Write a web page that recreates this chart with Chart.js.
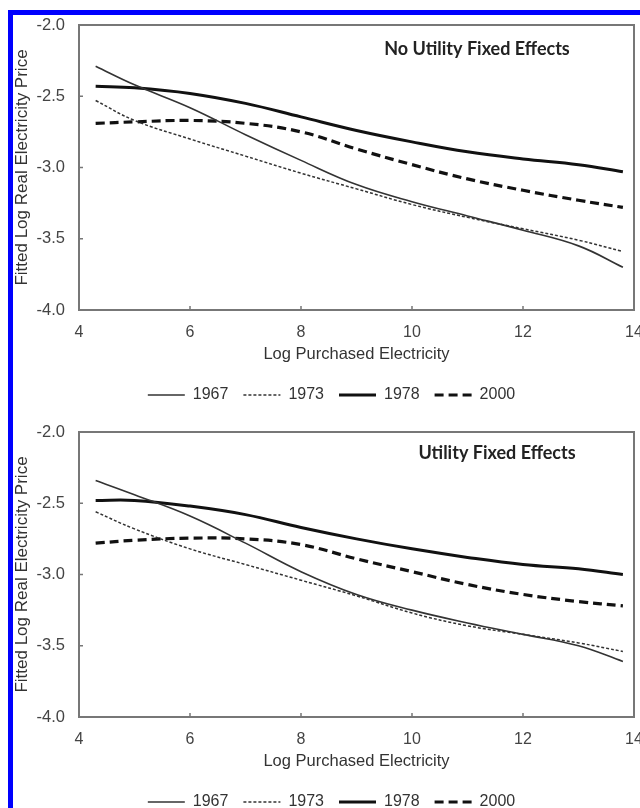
<!DOCTYPE html>
<html>
<head>
<meta charset="utf-8">
<script src="https://cdn.jsdelivr.net/npm/chart.js@4/dist/chart.umd.min.js"></script>
<style>
  body { margin: 0; width: 640px; height: 808px; overflow: hidden; background: #fff; position: relative; }
  #frame { position: absolute; left: 8px; top: 10px; width: 700px; height: 900px; border: 5px solid #0000fe; }
  .panel { position: absolute; left: 13px; width: 640px; height: 407px; }
</style>
</head>
<body>
<div id="frame"></div>
<div class="panel" style="top:9px"><canvas id="grafica1" width="640" height="407"></canvas></div>
<div class="panel" style="top:416px"><canvas id="grafica2" width="640" height="407"></canvas></div>

<script>
// x positions (log purchased electricity) where the fitted curves are read
var xVals = [4.3, 5, 6, 7, 8, 9, 10, 11, 12, 13, 13.8];
var years = ['1967', '1973', '1978', '2000'];
var xTicks = [4, 6, 8, 10, 12, 14];
var yTicks = [-4.0, -3.5, -3.0, -2.5, -2.0];

// panel 1: no utility fixed effects
var noFe1967 = [-2.29, -2.42, -2.58, -2.77, -2.95, -3.12, -3.24, -3.34, -3.44, -3.55, -3.70];
var noFe1973 = [-2.53, -2.67, -2.80, -2.92, -3.04, -3.15, -3.26, -3.35, -3.43, -3.51, -3.59];
var noFe1978 = [-2.43, -2.44, -2.48, -2.55, -2.645, -2.74, -2.82, -2.89, -2.94, -2.98, -3.03];
var noFe2000 = [-2.69, -2.68, -2.67, -2.69, -2.75, -2.87, -2.98, -3.08, -3.16, -3.23, -3.28];

// panel 2: utility fixed effects
var fe1967 = [-2.34, -2.44, -2.59, -2.78, -2.98, -3.14, -3.25, -3.34, -3.42, -3.50, -3.61];
var fe1973 = [-2.56, -2.68, -2.82, -2.93, -3.04, -3.15, -3.27, -3.36, -3.42, -3.48, -3.54];
var fe1978 = [-2.48, -2.48, -2.52, -2.58, -2.67, -2.75, -2.82, -2.88, -2.93, -2.96, -3.00];
var fe2000 = [-2.78, -2.76, -2.745, -2.75, -2.79, -2.89, -2.98, -3.07, -3.14, -3.19, -3.22];

var lineColors = ['#333', '#333', '#111', '#111'];
var lineWidths = [1.6, 1.5, 3, 3.2];
var lineDashes = [[], [3, 2], [], [9, 5]];

Chart.defaults.font.family = "'Liberation Sans', Arial, sans-serif";

// box round the plot plus small inward ticks, and the panel caption
var marcoPlugin = {
    id: 'marco',
    afterDraw: function (chart) {
        var ctx = chart.ctx;
        var a = chart.chartArea;
        var sx = chart.scales.x, sy = chart.scales.y;
        ctx.save();
        ctx.strokeStyle = '#777';
        ctx.lineWidth = 2;
        ctx.strokeRect(a.left, a.top, a.right - a.left, a.bottom - a.top);
        ctx.lineWidth = 1.5;
        ctx.beginPath();
        xTicks.forEach(function (v) {
            if (v == 4 || v == 14) return;
            var px = sx.getPixelForValue(v);
            ctx.moveTo(px, a.bottom);
            ctx.lineTo(px, a.bottom - 4);
        });
        yTicks.forEach(function (v) {
            if (v == -4 || v == -2) return;
            var py = sy.getPixelForValue(v);
            ctx.moveTo(a.left, py);
            ctx.lineTo(a.left + 4, py);
        });
        ctx.stroke();

        var op = chart.options.plugins.marco;
        ctx.fillStyle = '#222';
        ctx.font = "bold 18px Lato, 'Open Sans', sans-serif";
        ctx.textAlign = 'center';
        ctx.textBaseline = 'middle';
        ctx.fillText(op.text, a.left + op.dx, a.top + op.dy);
        ctx.restore();
    }
};

function hacerGrafica(id, titulo, dx, dy, series) {
    var datasets = years.map(function (yr, i) {
        return {
            label: yr,
            data: xVals.map(function (x, j) { return {x: x, y: series[i][j]}; }),
            borderColor: lineColors[i],
            backgroundColor: lineColors[i],
            borderWidth: lineWidths[i],
            borderDash: lineDashes[i],
            pointRadius: 0,
            tension: 0.4,
            fill: false
        };
    });

    return new Chart(document.getElementById(id), {
        type: 'line',
        data: {datasets: datasets},
        options: {
            responsive: false,
            animation: false,
            layout: {padding: {top: 16, right: 19, left: 16, bottom: 3}},
            plugins: {
                legend: {
                    position: 'bottom',
                    labels: {
                        usePointStyle: true,
                        pointStyle: 'line',
                        pointStyleWidth: 37,
                        color: '#333',
                        font: {size: 16},
                        padding: 15,
                        generateLabels: function (chart) {
                            var items = Chart.defaults.plugins.legend.labels.generateLabels(chart);
                            items.forEach(function (it, i) {
                                it.lineDash = lineDashes[i];
                                it.lineWidth = lineWidths[i];
                                it.strokeStyle = lineColors[i];
                            });
                            return items;
                        }
                    }
                },
                tooltip: {enabled: false},
                marco: {text: titulo, dx: dx, dy: dy}
            },
            scales: {
                x: {
                    type: 'linear',
                    min: 4,
                    max: 14,
                    afterBuildTicks: function (s) { s.ticks = xTicks.map(function (v) { return {value: v}; }); },
                    ticks: {color: '#444', font: {size: 16}, padding: 5, maxRotation: 0},
                    grid: {display: false},
                    border: {display: false},
                    title: {display: true, text: 'Log Purchased Electricity', color: '#333', font: {size: 16.5}, padding: {top: 0, bottom: 8}},
                    afterFit: function (s) { s.height = 62; }
                },
                y: {
                    min: -4,
                    max: -2,
                    afterBuildTicks: function (s) { s.ticks = yTicks.map(function (v) { return {value: v}; }); },
                    ticks: {
                        color: '#444',
                        font: {size: 16.5},
                        padding: 6,
                        callback: function (v) { return v.toFixed(1); }
                    },
                    grid: {display: false},
                    border: {display: false},
                    title: {display: true, text: 'Fitted Log Real Electricity Price', color: '#333', font: {size: 17}, padding: {top: -17, bottom: 0}},
                    afterFit: function (s) { s.width = 50; }
                }
            }
        },
        plugins: [marcoPlugin]
    });
}

hacerGrafica('grafica1', 'No Utility Fixed Effects', 398, 24, [noFe1967, noFe1973, noFe1978, noFe2000]);
hacerGrafica('grafica2', 'Utility Fixed Effects', 418, 21, [fe1967, fe1973, fe1978, fe2000]);
</script>
</body>
</html>
